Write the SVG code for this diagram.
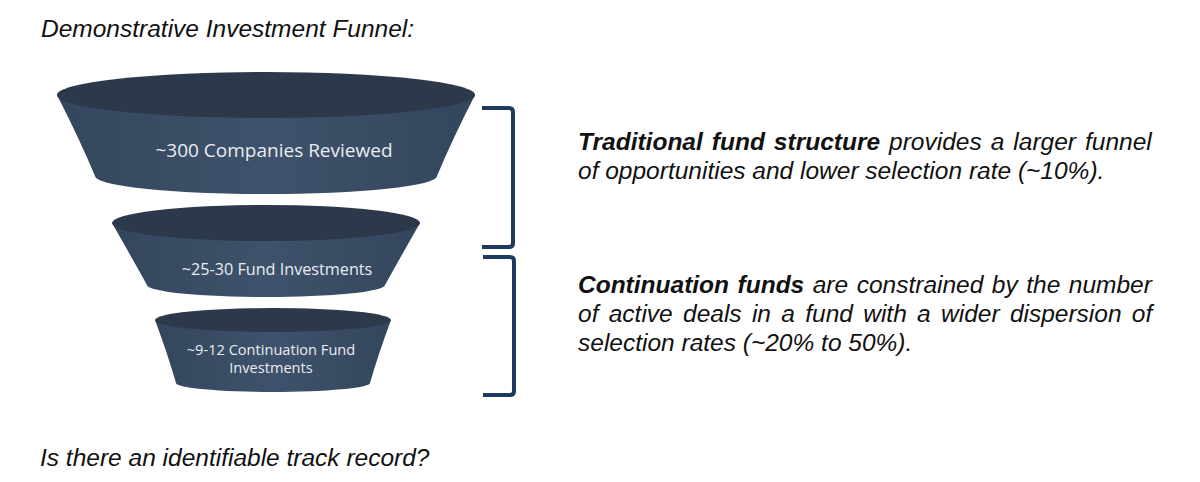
<svg xmlns="http://www.w3.org/2000/svg" width="1200" height="482" viewBox="0 0 1200 482">
<defs>
<style>
.body{fill:url(#bodyGrad);}
.top{fill:#2b394b;}
.ftxt{font-family:"Open Sans","DejaVu Sans",sans-serif;fill:#e9edf2;text-anchor:middle;}
.txt{font-family:"Liberation Sans",Arial,sans-serif;font-size:24.5px;fill:#111;font-style:italic;}
.b{font-weight:bold;}
.brk{fill:none;stroke:#1f3a60;stroke-width:4;stroke-linecap:butt;stroke-linejoin:round;}
</style>
<linearGradient id="bodyGrad" x1="0" y1="0" x2="1" y2="0">
<stop offset="0" stop-color="#34465d"/>
<stop offset="0.5" stop-color="#3e526b"/>
<stop offset="1" stop-color="#34465d"/>
</linearGradient>
</defs>
<rect width="1200" height="482" fill="#ffffff"/>
<text id="title" class="txt" x="41" y="37" font-size="24.2">Demonstrative Investment Funnel:</text>
<g id="funnel1">
<path class="body" d="M57,95 Q80,140 95,176 A171,18 0 0 0 437,176 Q452,140 475,95 Z"/>
<ellipse class="top" cx="266" cy="95" rx="209" ry="23"/>
<text class="ftxt" x="274" y="157" font-size="19">~300 Companies Reviewed</text>
</g>
<g id="funnel2">
<path class="body" d="M112,223 Q132,258 147,285 A119,12 0 0 0 385,285 Q400,258 420,223 Z"/>
<ellipse class="top" cx="266" cy="223" rx="154" ry="18"/>
<text class="ftxt" x="277" y="275" font-size="16.2">~25-30 Fund Investments</text>
</g>
<g id="funnel3">
<path class="body" d="M155,320 Q168,355 176,383 A97,9 0 0 0 370,383 Q378,355 391,320 Z"/>
<ellipse class="top" cx="273" cy="320" rx="118" ry="12"/>
<text class="ftxt" x="271" y="355" font-size="14.6">~9-12 Continuation Fund</text>
<text class="ftxt" x="271" y="373" font-size="14.6">Investments</text>
</g>
<g id="connectors">
<path class="brk" d="M482,108 H509 Q513,108 513,112 V243 Q513,247 509,247 H482"/>
<path class="brk" d="M483,257 H510 Q514,257 514,261 V391 Q514,395 510,395 H483"/>
</g>
<g id="note1">
<text class="txt" x="578" y="150" word-spacing="2.2"><tspan class="b">Traditional fund structure</tspan> provides a larger funnel</text>
<text class="txt" x="578" y="179">of opportunities and lower selection rate (~10%).</text>
</g>
<g id="note2">
<text class="txt" x="578" y="293" word-spacing="1.7"><tspan class="b">Continuation funds</tspan> are constrained by the number</text>
<text class="txt" x="578" y="322" word-spacing="3.5">of active deals in a fund with a wider dispersion of</text>
<text class="txt" x="578" y="351">selection rates (~20% to 50%).</text>
</g>
<text id="question" class="txt" x="40" y="466" font-size="24">Is there an identifiable track record?</text>
</svg>
